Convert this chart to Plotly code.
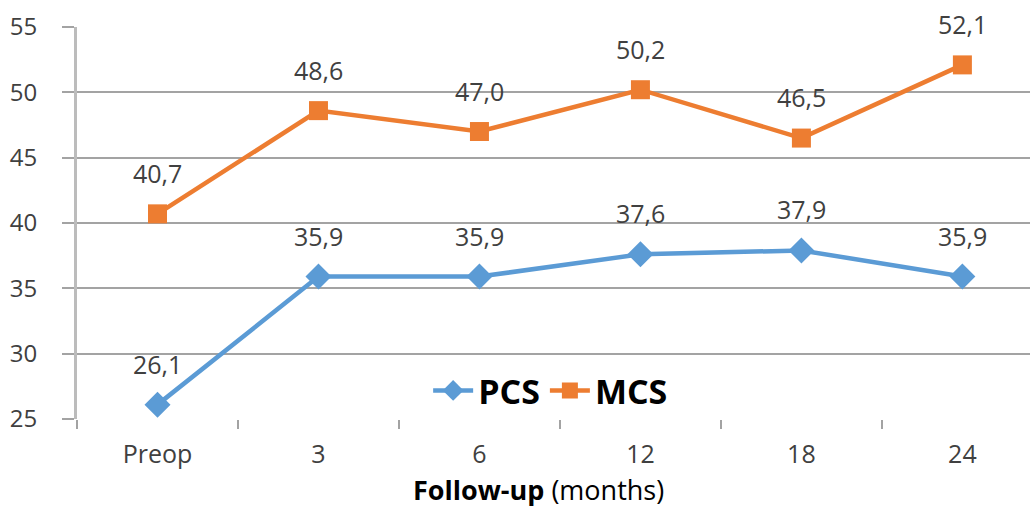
import plotly.graph_objects as go

# Follow-up time points and mean summary scores
categories = ["Preop", "3", "6", "12", "18", "24"]
pcs_values = [26.1, 35.9, 35.9, 37.6, 37.9, 35.9]
mcs_values = [40.7, 48.6, 47.0, 50.2, 46.5, 52.1]
y_ticks = [25, 30, 35, 40, 45, 50, 55]

FONT = "'Open Sans', sans-serif"
TEXT_GREY = "#404040"
GRID = "#a3a3a3"
BLUE = "#5B9BD5"
ORANGE = "#ED7D31"


def comma(v):
    return f"{v:.1f}".replace(".", ",")


fig = go.Figure()

fig.add_trace(go.Scatter(
    x=categories, y=pcs_values, name="PCS",
    mode="lines+markers",
    line=dict(color=BLUE, width=4.5),
    marker=dict(symbol="diamond", size=20, color=BLUE),
    cliponaxis=False,
))

fig.add_trace(go.Scatter(
    x=categories, y=mcs_values, name="MCS",
    mode="lines+markers",
    line=dict(color=ORANGE, width=4.5),
    marker=dict(symbol="square", size=19, color=ORANGE),
    cliponaxis=False,
))

# value labels above each point (category axis positions are indices)
annotations = []
for series in (pcs_values, mcs_values):
    for idx, val in enumerate(series):
        annotations.append(dict(
            x=idx, y=val, xref="x", yref="y", text=comma(val),
            showarrow=False, xanchor="center", yanchor="middle", yshift=41,
            font=dict(size=25, color=TEXT_GREY, family=FONT),
        ))

annotations.append(dict(
    text="<b>Follow-up</b> (months)", xref="paper", yref="paper",
    x=0.484, y=-0.179, xanchor="center", yanchor="middle",
    showarrow=False, font=dict(size=27, color="black", family=FONT),
))

fig.update_layout(
    width=1030, height=507,
    margin=dict(l=77, r=0, t=27, b=87.5),
    paper_bgcolor="white", plot_bgcolor="white",
    font=dict(family=FONT, color=TEXT_GREY, size=18),
    showlegend=True,
    legend=dict(
        orientation="h", x=0.497, xanchor="center", y=0.072, yanchor="middle",
        font=dict(size=34, color="black", family=FONT, weight="bold"),
        bgcolor="rgba(255,255,255,0)", itemwidth=40, tracegroupgap=0,
    ),
    annotations=annotations,
)

fig.update_xaxes(
    type="category", range=[-0.5, 5.42],
    showgrid=False, zeroline=False, showline=False,
    ticks="outside", tickson="boundaries", ticklen=9, tickwidth=2, tickcolor=GRID,
    tickfont=dict(size=25, color=TEXT_GREY, family=FONT),
    ticklabelstandoff=18,
)

fig.update_yaxes(
    range=[25, 55], tickvals=y_ticks,
    showgrid=True, gridcolor=GRID, gridwidth=2,
    zeroline=False,
    showline=True, linecolor="#bcbcbc", linewidth=3,
    ticks="outside", ticklen=12, tickwidth=2, tickcolor=GRID,
    tickfont=dict(size=24, color=TEXT_GREY, family=FONT),
    ticklabelstandoff=20,
)

fig.write_html("out.html")
